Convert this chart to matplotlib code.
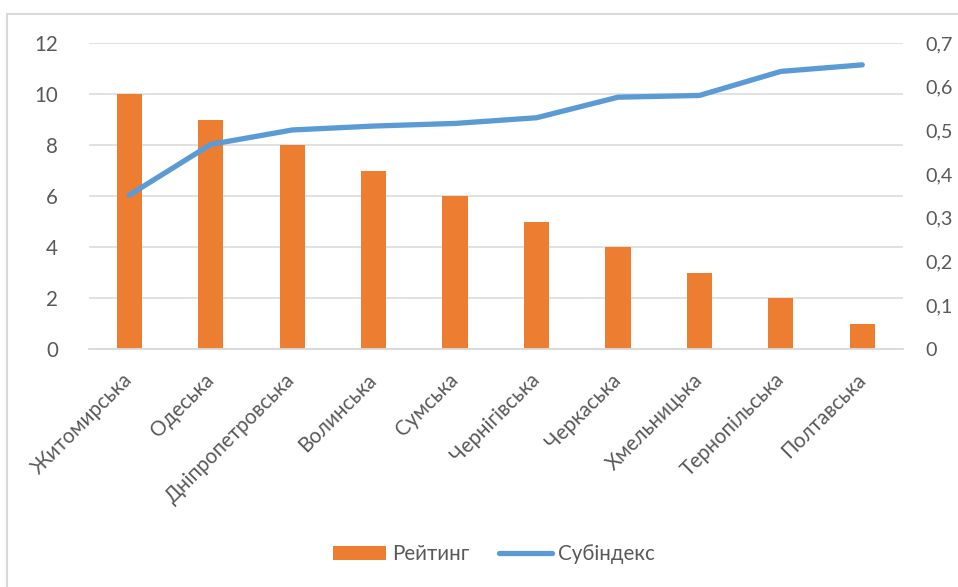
import matplotlib
matplotlib.use("Agg")
import matplotlib.pyplot as plt
from matplotlib.patches import Rectangle
from matplotlib.ticker import FuncFormatter

plt.rcParams['font.family'] = ['Lato', 'DejaVu Sans']

regions = ["Житомирська", "Одеська", "Дніпропетровська", "Волинська", "Сумська",
           "Чернігівська", "Черкаська", "Хмельницька", "Тернопільська", "Полтавська"]
rating = [10, 9, 8, 7, 6, 5, 4, 3, 2, 1]
subindex = [0.352, 0.468, 0.501, 0.510, 0.516, 0.529, 0.576, 0.580, 0.635, 0.650]
left_ticks = [0, 2, 4, 6, 8, 10, 12]
right_ticks = [0, 0.1, 0.2, 0.3, 0.4, 0.5, 0.6, 0.7]

W, H = 958, 587
fig = plt.figure(figsize=(W / 100, H / 100), dpi=100)
ax = fig.add_axes([88.5 / W, 1 - 349 / H, (903 - 88.5) / W, (349 - 43) / H])
ax2 = ax.twinx()

txt = '#595959'
grid = '#D9D9D9'
fs = 14.8

x = list(range(len(regions)))
bars = ax.bar(x, rating, width=0.31, color='#ED7D31', zorder=2, label='Рейтинг')
line, = ax2.plot(x, subindex, color='#5B9BD5', lw=3.8, solid_capstyle='round',
                 solid_joinstyle='round', zorder=3, label='Субіндекс')

ax.set_xlim(-0.5, len(regions) - 0.5)
ax.set_ylim(0, 12)
ax2.set_ylim(0, 0.7)
ax.set_yticks(left_ticks)
ax2.set_yticks(right_ticks)
ax2.yaxis.set_major_formatter(FuncFormatter(lambda v, p: '0' if v == 0 else f'{v:.1f}'.replace('.', ',')))

ax.yaxis.grid(True, color=grid, lw=1.1, zorder=0)
ax.set_axisbelow(True)
for a in (ax, ax2):
    for s in ('left', 'right', 'top'):
        a.spines[s].set_visible(False)
    a.spines['bottom'].set_color(grid)
    a.spines['bottom'].set_linewidth(1.1)
    a.tick_params(length=0, labelsize=fs, labelcolor=txt)
ax.tick_params(axis='y', pad=22)
ax2.tick_params(axis='y', pad=16, labelsize=14.2)

ax.set_xticks(x)
ax.set_xticklabels(regions, rotation=45, ha='right', va='center', rotation_mode='anchor',
                   fontsize=fs, color=txt)
ax.tick_params(axis='x', pad=20)

fig.legend(handles=[bars, line], labels=['Рейтинг', 'Субіндекс'], loc='center',
           bbox_to_anchor=(494 / W, 1 - 554 / H), ncol=2, frameon=False, fontsize=fs,
           labelcolor=txt, handlelength=2.6, columnspacing=1.4, handletextpad=0.3)

fig.add_artist(Rectangle((7 / W, -0.05), 1.2, (H - 13.5) / H + 0.05, transform=fig.transFigure,
                         fill=False, edgecolor=grid, lw=1.5))

fig.savefig('out.png', dpi=100)
